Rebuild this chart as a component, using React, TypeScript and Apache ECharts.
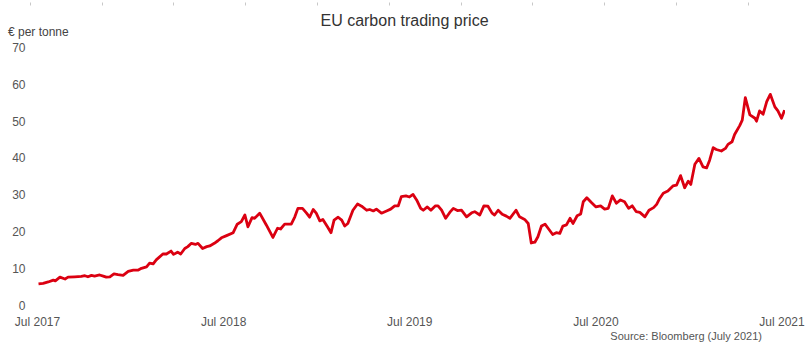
import React, { useEffect, useRef } from "react";
import * as echarts from "echarts";

const TITLE = "EU carbon trading price";
const UNIT = "€ per tonne";
const SOURCE = "Source: Bloomberg (July 2021)";

const xTickLabels = ["Jul 2017", "Jul 2018", "Jul 2019", "Jul 2020", "Jul 2021"];

const dates = [
  "2017-07-03", "2017-07-12", "2017-07-22", "2017-08-01", "2017-08-05", "2017-08-14", "2017-08-24", "2017-08-30",
  "2017-09-12", "2017-09-25", "2017-10-02", "2017-10-08", "2017-10-15", "2017-10-21", "2017-10-31", "2017-11-07",
  "2017-11-13", "2017-11-20", "2017-11-28", "2017-12-06", "2017-12-16", "2017-12-26", "2018-01-05", "2018-01-14",
  "2018-01-21", "2018-01-31", "2018-02-06", "2018-02-13", "2018-02-19", "2018-02-24", "2018-03-04", "2018-03-11",
  "2018-03-20", "2018-03-25", "2018-04-02", "2018-04-08", "2018-04-16", "2018-04-22", "2018-04-29", "2018-05-07",
  "2018-05-12", "2018-05-21", "2018-05-29", "2018-06-04", "2018-06-13", "2018-06-20", "2018-06-27", "2018-07-07",
  "2018-07-20", "2018-07-28", "2018-08-05", "2018-08-12", "2018-08-18", "2018-08-26", "2018-08-31", "2018-09-10",
  "2018-09-23", "2018-10-06", "2018-10-15", "2018-10-21", "2018-10-29", "2018-11-11", "2018-11-18", "2018-11-24",
  "2018-12-03", "2018-12-11", "2018-12-17", "2018-12-24", "2018-12-30", "2019-01-06", "2019-01-12", "2019-01-21",
  "2019-01-28", "2019-02-03", "2019-02-11", "2019-02-18", "2019-02-24", "2019-03-02", "2019-03-12", "2019-03-21",
  "2019-03-29", "2019-04-08", "2019-04-14", "2019-04-21", "2019-04-27", "2019-05-07", "2019-05-17", "2019-05-25",
  "2019-06-02", "2019-06-09", "2019-06-15", "2019-06-24", "2019-07-01", "2019-07-08", "2019-07-15", "2019-07-23",
  "2019-07-28", "2019-08-05", "2019-08-12", "2019-08-21", "2019-08-26", "2019-09-02", "2019-09-10", "2019-09-18",
  "2019-09-25", "2019-10-03", "2019-10-11", "2019-10-21", "2019-10-31", "2019-11-06", "2019-11-16", "2019-11-24",
  "2019-12-02", "2019-12-10", "2019-12-15", "2019-12-22", "2019-12-30", "2020-01-07", "2020-01-14", "2020-01-26",
  "2020-02-02", "2020-02-12", "2020-02-19", "2020-02-25", "2020-03-03", "2020-03-09", "2020-03-16", "2020-03-23",
  "2020-03-29", "2020-04-07", "2020-04-14", "2020-04-21", "2020-04-27", "2020-05-04", "2020-05-11", "2020-05-17",
  "2020-05-25", "2020-06-01", "2020-06-06", "2020-06-13", "2020-06-22", "2020-07-01", "2020-07-10", "2020-07-18",
  "2020-07-25", "2020-08-02", "2020-08-10", "2020-08-18", "2020-08-26", "2020-09-03", "2020-09-10", "2020-09-18",
  "2020-09-25", "2020-10-05", "2020-10-13", "2020-10-22", "2020-10-28", "2020-11-03", "2020-11-10", "2020-11-19",
  "2020-11-29", "2020-12-06", "2020-12-14", "2020-12-22", "2020-12-29", "2021-01-03", "2021-01-11", "2021-01-19",
  "2021-01-27", "2021-02-03", "2021-02-09", "2021-02-16", "2021-02-22", "2021-03-04", "2021-03-12", "2021-03-17",
  "2021-03-25", "2021-03-30", "2021-04-09", "2021-04-14", "2021-04-20", "2021-04-29", "2021-05-09", "2021-05-12",
  "2021-05-18", "2021-05-25", "2021-06-01", "2021-06-08", "2021-06-17", "2021-06-23", "2021-06-30", "2021-07-06",
];

const prices = [
  5.85, 6.0, 6.4, 6.9, 6.7, 7.7, 7.2, 7.7,
  7.8, 7.9, 8.1, 7.8, 8.2, 8.0, 8.3, 8.0,
  7.7, 7.8, 8.6, 8.4, 8.2, 9.3, 9.6, 9.6,
  10.1, 10.5, 11.5, 11.3, 12.4, 13.0, 14.0, 14.0,
  14.8, 13.9, 14.5, 14.0, 15.5, 16.0, 16.9, 16.6,
  16.9, 15.5, 16.0, 16.2, 16.9, 17.6, 18.4, 19.0,
  19.8, 22.1, 22.8, 24.6, 21.4, 23.9, 23.7, 25.1,
  21.9, 18.5, 21.0, 20.8, 22.1, 22.1, 24.1, 26.4,
  26.4, 25.1, 24.0, 26.1, 25.1, 23.0, 23.4, 21.4,
  19.8, 23.2, 24.0, 23.2, 21.6, 22.3, 25.9, 27.6,
  27.0, 25.9, 26.1, 25.7, 26.2, 25.1, 25.7, 26.2,
  27.1, 27.1, 29.6, 29.8, 29.5, 30.2, 28.7, 26.4,
  25.9, 26.8, 25.9, 27.1, 27.1, 25.9, 23.7, 25.3,
  26.4, 25.8, 25.9, 24.1, 25.2, 25.5, 24.6, 27.1,
  27.0, 25.1, 24.6, 25.9, 24.8, 24.3, 23.7, 25.9,
  24.1, 23.4, 22.3, 17.0, 17.2, 18.7, 21.6, 22.1,
  21.0, 19.3, 19.8, 19.6, 21.6, 21.9, 23.7, 22.3,
  24.4, 24.9, 28.2, 29.3, 28.0, 26.8, 27.1, 26.2,
  26.4, 29.8, 27.8, 28.7, 28.2, 26.4, 27.1, 25.5,
  25.3, 24.1, 25.9, 26.6, 27.5, 29.1, 30.5, 31.1,
  32.5, 32.7, 35.3, 32.0, 33.8, 32.9, 38.4, 40.0,
  37.7, 37.4, 39.5, 42.9, 42.4, 42.0, 42.7, 43.8,
  44.5, 46.5, 48.9, 50.4, 56.5, 51.8, 50.9, 50.1,
  52.9, 52.0, 55.4, 57.4, 54.0, 52.9, 50.9, 53.1,
];

const START = Date.parse("2017-07-01T00:00:00Z");
const YEAR_MS = 365.25 * 86400000;

const FONT = "'Liberation Sans', Arial, Helvetica, sans-serif";

export default function App() {
  const ref = useRef<HTMLDivElement>(null);

  useEffect(() => {
    if (!ref.current) return;
    const chart = echarts.init(ref.current, null, { renderer: "svg" });
    const seriesData = dates.map((d, i) => [
      (Date.parse(d + "T00:00:00Z") - START) / YEAR_MS,
      prices[i],
    ]);
    chart.setOption({
      animation: false,
      textStyle: { fontFamily: FONT },
      title: [
        {
          text: TITLE,
          left: "center",
          top: 12,
          padding: 0,
          textStyle: { fontFamily: FONT, fontSize: 16, fontWeight: "normal", color: "#333333" },
        },
        {
          text: UNIT,
          left: 8,
          top: 26,
          padding: 0,
          textStyle: { fontFamily: FONT, fontSize: 12, fontWeight: "normal", color: "#444444" },
        },
        {
          text: SOURCE,
          right: 47,
          top: 330,
          padding: 0,
          textStyle: { fontFamily: FONT, fontSize: 11, fontWeight: "normal", color: "#555555" },
        },
      ],
      grid: [
        { left: 37.5, right: 27, top: 48, bottom: 43.5 },
        { left: 30, right: 61, top: -10, height: 10 },
      ],
      xAxis: [
        {
          type: "value",
          gridIndex: 0,
          min: 0,
          max: 4,
          interval: 1,
          axisLine: { show: false },
          axisTick: { show: false },
          splitLine: { show: false },
          axisLabel: {
            margin: 10,
            fontSize: 12,
            color: "#555555",
            fontFamily: FONT,
            formatter: (v: number) => xTickLabels[Math.round(v)] ?? "",
          },
        },
        {
          type: "value",
          gridIndex: 1,
          min: 0,
          max: 10,
          interval: 1,
          position: "bottom",
          axisLine: { show: false },
          axisTick: { show: true, length: 3, lineStyle: { color: "#c8c8c8", width: 1 } },
          axisLabel: { show: false },
          splitLine: { show: false },
        },
      ],
      yAxis: [
        {
          type: "value",
          gridIndex: 0,
          min: 0,
          max: 70,
          interval: 10,
          axisLine: { show: false },
          axisTick: { show: false },
          splitLine: { show: false },
          axisLabel: { margin: 12, fontSize: 12, color: "#555555", fontFamily: FONT },
        },
        {
          type: "value",
          gridIndex: 1,
          show: false,
        },
      ],
      series: [
        {
          type: "line",
          xAxisIndex: 0,
          yAxisIndex: 0,
          data: seriesData,
          symbol: "none",
          lineStyle: { color: "#db0011", width: 2.8, join: "round" },
          itemStyle: { color: "#db0011" },
        },
      ],
    });
    return () => chart.dispose();
  }, []);

  return (
    <div
      ref={ref}
      style={{ position: "fixed", left: 0, top: 0, width: 809, height: 349, background: "#ffffff" }}
    />
  );
}
